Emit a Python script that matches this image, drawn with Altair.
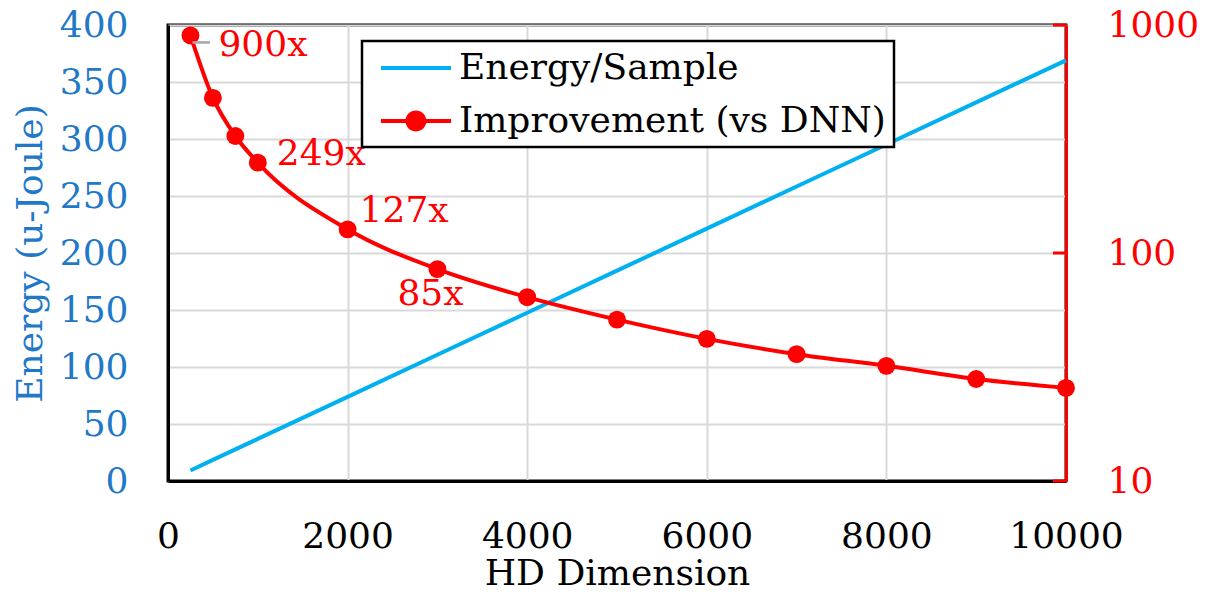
import altair as alt
import pandas as pd

# ---- data -------------------------------------------------------------
dims = [250, 500, 750, 1000, 2000, 3000, 4000, 5000, 6000, 7000, 8000, 9000, 10000]
energy = [9.2, 18.5, 27.7, 36.9, 73.8, 110.7, 147.6, 184.5, 221.4, 258.3, 295.2, 332.1, 369.0]
improvement = [900, 479, 326, 249, 127, 85, 64, 51, 42, 36, 32, 28, 25.6]
labelled_dims = [250, 1000, 2000, 3000]
series_names = ["Energy/Sample", "Improvement (vs DNN)"]
x_ticks = [0, 2000, 4000, 6000, 8000, 10000]
left_ticks = [0, 50, 100, 150, 200, 250, 300, 350, 400]
right_ticks = [10, 100, 1000]

# ---- style ------------------------------------------------------------
FONT = "DejaVu Serif"
FS = 36
BLUE_LINE = "#00B0F0"
BLUE_TEXT = "#1F78C8"
RED = "#FF0000"
GRID = "#D9D9D9"
W, H = 898, 456

# label offsets (dx, dy) next to the annotated points
label_offsets = {250: (28, 10), 1000: (19, -9), 2000: (12, -18), 3000: (-40, 25)}

df = pd.DataFrame({"dim": dims, "energy": energy, "improvement": improvement})
df["label"] = [f"{v:g}x" for v in improvement]
ticks_df = pd.DataFrame({"t": right_ticks})
legend_df = pd.DataFrame({"series": series_names})

x_enc = alt.X(
    "dim:Q",
    scale=alt.Scale(domain=[0, 10000], nice=False, zero=False),
    axis=alt.Axis(values=x_ticks, title="HD Dimension", grid=True, ticks=False,
                  labelPadding=38, titlePadding=2, format="d",
                  labelFlush=False, labelOverlap=False),
)

y_left = alt.Y(
    "energy:Q",
    scale=alt.Scale(domain=[0, 400], nice=False),
    axis=alt.Axis(orient="left", values=left_ticks, title="Energy (u-Joule)",
                  grid=True, ticks=False, labelColor=BLUE_TEXT, titleColor=BLUE_TEXT,
                  labelPadding=40, titlePadding=10, domainColor="black",
                  labelFlush=False, labelOverlap=False),
)

right_axis = alt.Axis(orient="right", values=right_ticks, title=None, grid=False,
                      ticks=False, labelColor=RED, labelPadding=41, format="d",
                      domainColor=RED, labelBaseline="middle",
                      labelFlush=False, labelOverlap=False)
right_scale = alt.Scale(type="log", domain=[10, 1000], nice=False)

energy_line = alt.Chart(df).mark_line(color=BLUE_LINE, strokeWidth=4).encode(
    x=x_enc, y=y_left
)

impr_line = alt.Chart(df).mark_line(
    color=RED, strokeWidth=4, interpolate="monotone"
).encode(x=x_enc, y=alt.Y("improvement:Q", scale=right_scale, axis=right_axis))

impr_points = alt.Chart(df).mark_circle(size=320, color=RED, opacity=1).encode(
    x=x_enc, y=alt.Y("improvement:Q", scale=right_scale, axis=right_axis)
)

# short grey leader from the first point toward its label
leader = alt.Chart(df).transform_filter(alt.datum.dim == labelled_dims[0]).mark_rule(
    color="#A6A6A6", strokeWidth=2.5, xOffset=2, yOffset=7, y2Offset=7
).encode(
    x=x_enc,
    x2=alt.value(42),
    y=alt.Y("improvement:Q", scale=right_scale, axis=right_axis),
)

# inward tick marks on the secondary axis
right_tick_marks = alt.Chart(ticks_df).mark_rule(color=RED, strokeWidth=3).encode(
    y=alt.Y("t:Q", scale=right_scale, axis=right_axis),
    x=alt.value(W - 13),
    x2=alt.value(W),
)

label_layers = []
for d in labelled_dims:
    dx, dy = label_offsets[d]
    label_layers.append(
        alt.Chart(df)
        .transform_filter(alt.datum.dim == d)
        .mark_text(font=FONT, fontSize=FS, color=RED, align="left",
                   baseline="middle", dx=dx, dy=dy)
        .encode(x=x_enc, y=alt.Y("improvement:Q", scale=right_scale, axis=right_axis),
                text="label:N")
    )

right_layer = alt.layer(impr_line, impr_points, leader, right_tick_marks, *label_layers)

# legend symbols (unit = 18 px): a 70 px line, and the same line with a dot
LINE_PATH = "M-1,-0.11H2.89V0.11H-1Z"
DOT_PATH = ("M-1,-0.11H2.89V0.11H-1Z "
            "M0.36,0A0.58,0.58,0,1,1,1.52,0A0.58,0.58,0,1,1,0.36,0Z")

legend_def = alt.Legend(
    title=None, orient="none", legendX=194, legendY=16, direction="vertical",
    fillColor="white", strokeColor="black", padding=8, rowPadding=16,
    symbolSize=1296, symbolOffset=10, labelOffset=41, labelFont=FONT, labelFontSize=FS,
    labelColor="black", labelLimit=600,
)

legend_layer = alt.Chart(legend_df).transform_filter("false").mark_point(
    filled=True, opacity=1
).encode(
    color=alt.Color("series:N", scale=alt.Scale(domain=series_names, range=[BLUE_LINE, RED]),
                    legend=legend_def),
    shape=alt.Shape("series:N", scale=alt.Scale(domain=series_names, range=[LINE_PATH, DOT_PATH]),
                    legend=legend_def),
)

chart = (
    alt.layer(energy_line, right_layer, legend_layer)
    .resolve_scale(y="independent")
    .properties(
        width=W,
        height=H,
        autosize=alt.AutoSizeParams(type="none"),
        padding={"left": 168, "top": 25, "right": 139, "bottom": 111},
        background="white",
    )
    .configure_view(stroke="black", strokeWidth=3)
    .configure_legend(strokeWidth=2.5)
    .configure_axis(
        labelFont=FONT, labelFontSize=FS, titleFont=FONT, titleFontSize=FS,
        titleFontWeight="normal", labelColor="black", titleColor="black",
        gridColor=GRID, gridWidth=2, domainWidth=3, domainColor="black",
    )
)

chart.save("out.html", embed_options={"renderer": "svg", "actions": False})
